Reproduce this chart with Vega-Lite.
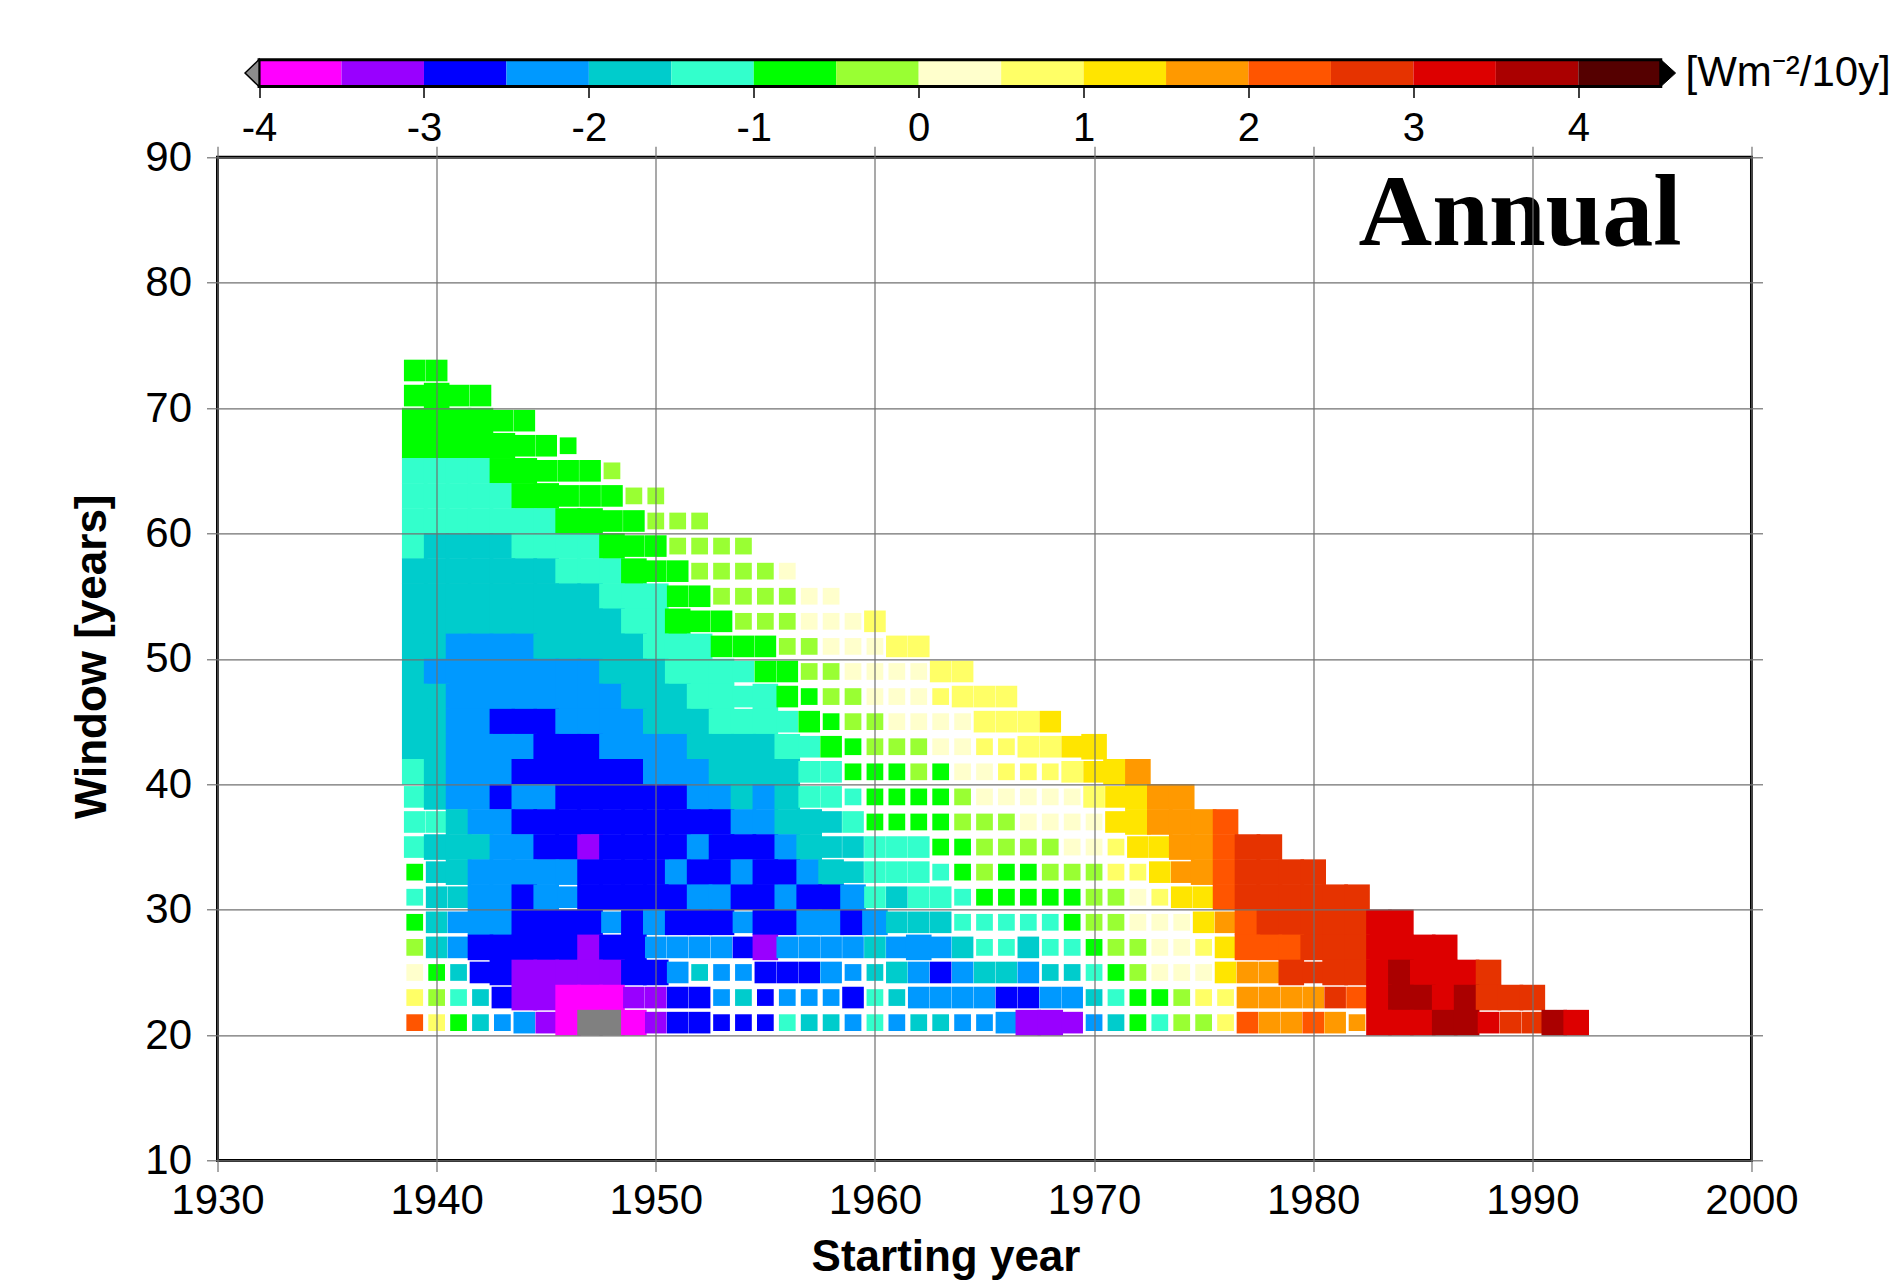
{
"$schema": "https://vega.github.io/schema/vega-lite/v6.json",
"background": "white",
"padding": {"left": 68.5, "top": 51.7, "right": 2, "bottom": 2},
"bounds": "flush",
"spacing": 70.6,
"config": {"view": {"stroke": null}, "axis": {"labelFont": "Liberation Sans", "titleFont": "Liberation Sans"}, "text": {"font": "Liberation Sans"}},
"vconcat": [
{
"width": 1453, "height": 26.7,
"view": {"stroke": null},
"layer": [
{"data": {"values": [
{"lo":-4,"hi":-3.5,"t":-3.75},{"lo":-3.5,"hi":-3,"t":-3.25},{"lo":-3,"hi":-2.5,"t":-2.75},{"lo":-2.5,"hi":-2,"t":-2.25},{"lo":-2,"hi":-1.5,"t":-1.75},{"lo":-1.5,"hi":-1,"t":-1.25},{"lo":-1,"hi":-0.5,"t":-0.75},{"lo":-0.5,"hi":0,"t":-0.25},{"lo":0,"hi":0.5,"t":0.25},{"lo":0.5,"hi":1,"t":0.75},{"lo":1,"hi":1.5,"t":1.25},{"lo":1.5,"hi":2,"t":1.75},{"lo":2,"hi":2.5,"t":2.25},{"lo":2.5,"hi":3,"t":2.75},{"lo":3,"hi":3.5,"t":3.25},{"lo":3.5,"hi":4,"t":3.75},{"lo":4,"hi":4.5,"t":4.25}]},
"mark": {"type": "rect", "strokeWidth": 0},
"encoding": {
"x": {"field": "lo", "type": "quantitative", "scale": {"domain": [-4.252, 4.559], "nice": false, "zero": false},
"axis": {"orient": "bottom", "values": [-4,-3,-2,-1,0,1,2,3,4], "labelExpr": "'' + datum.value", "domain": false, "grid": false, "ticks": true, "tickSize": 11, "tickColor": "black", "tickWidth": 1.5, "labelFontSize": 40, "labelPadding": 11, "labelColor": "black", "title": null, "labelFlush": false, "labelOverlap": false}},
"x2": {"field": "hi"},
"color": {"field": "t", "type": "quantitative", "scale": {"type": "threshold", "domain": [-4,-3.5,-3,-2.5,-2,-1.5,-1,-0.5,0,0.5,1,1.5,2,2.5,3,3.5,4], "range": ["#808080","#ff00ff","#9900ff","#0000ff","#0099ff","#00cccc","#33ffcc","#00ff00","#99ff33","#ffffcc","#ffff66","#ffe500","#ff9900","#ff5500","#e63300","#dd0000","#aa0000","#550000"]}, "legend": null}
}},
{"data": {"values": [{}]},
"mark": {"type": "rect", "filled": false, "stroke": "black", "strokeWidth": 3},
"encoding": {"x": {"datum": -4, "type": "quantitative"}, "x2": {"datum": 4.5}}},
{"data": {"values": [{}]},
"mark": {"type": "point", "shape": "M-0.52,0L0.52,-1L0.52,1Z", "filled": true, "fill": "#8c8c8c", "stroke": "black", "strokeWidth": 1.5, "size": 729, "opacity": 1},
"encoding": {"x": {"datum": -4.0425, "type": "quantitative"}}},
{"data": {"values": [{}]},
"mark": {"type": "point", "shape": "M0.55,0L-0.55,-1L-0.55,1Z", "filled": true, "fill": "black", "stroke": "black", "strokeWidth": 1, "size": 729, "opacity": 1},
"encoding": {"x": {"datum": 4.545, "type": "quantitative"}}},
{"data": {"values": [{}]},
"mark": {"type": "text", "text": "[Wm⁻²/10y]", "fontSize": 42, "align": "left", "baseline": "alphabetic", "dy": 13, "color": "black"},
"encoding": {"x": {"datum": 4.65, "type": "quantitative"}}}
]
},
{
"width": 1534, "height": 1003.3,
"view": {"stroke": "black", "strokeWidth": 3},
"layer": [
{"data": {"values": [
{"yr":1939,"w":73,"t":-0.75,"s":"L"},{"yr":1940,"w":73,"t":-0.75,"s":"L"},
{"yr":1939,"w":71,"t":-0.75,"s":"L"},{"yr":1940,"w":71,"t":-0.75,"s":"F"},{"yr":1941,"w":71,"t":-0.75,"s":"L"},{"yr":1942,"w":71,"t":-0.75,"s":"L"},
{"yr":1939,"w":69,"t":-0.75,"s":"F"},{"yr":1940,"w":69,"t":-0.75,"s":"F"},{"yr":1941,"w":69,"t":-0.75,"s":"F"},{"yr":1942,"w":69,"t":-0.75,"s":"F"},{"yr":1943,"w":69,"t":-0.75,"s":"L"},{"yr":1944,"w":69,"t":-0.75,"s":"L"},
{"yr":1939,"w":67,"t":-0.75,"s":"F"},{"yr":1940,"w":67,"t":-0.75,"s":"F"},{"yr":1941,"w":67,"t":-0.75,"s":"F"},{"yr":1942,"w":67,"t":-0.75,"s":"F"},{"yr":1943,"w":67,"t":-0.75,"s":"F"},{"yr":1944,"w":67,"t":-0.75,"s":"L"},{"yr":1945,"w":67,"t":-0.75,"s":"L"},{"yr":1946,"w":67,"t":-0.75,"s":"S"},
{"yr":1939,"w":65,"t":-1.25,"s":"F"},{"yr":1940,"w":65,"t":-1.25,"s":"F"},{"yr":1941,"w":65,"t":-1.25,"s":"F"},{"yr":1942,"w":65,"t":-1.25,"s":"F"},{"yr":1943,"w":65,"t":-0.75,"s":"F"},{"yr":1944,"w":65,"t":-0.75,"s":"F"},{"yr":1945,"w":65,"t":-0.75,"s":"L"},{"yr":1946,"w":65,"t":-0.75,"s":"L"},{"yr":1947,"w":65,"t":-0.75,"s":"L"},{"yr":1948,"w":65,"t":-0.25,"s":"S"},
{"yr":1939,"w":63,"t":-1.25,"s":"F"},{"yr":1940,"w":63,"t":-1.25,"s":"F"},{"yr":1941,"w":63,"t":-1.25,"s":"F"},{"yr":1942,"w":63,"t":-1.25,"s":"F"},{"yr":1943,"w":63,"t":-1.25,"s":"F"},{"yr":1944,"w":63,"t":-0.75,"s":"F"},{"yr":1945,"w":63,"t":-0.75,"s":"F"},{"yr":1946,"w":63,"t":-0.75,"s":"L"},{"yr":1947,"w":63,"t":-0.75,"s":"L"},{"yr":1948,"w":63,"t":-0.75,"s":"L"},{"yr":1949,"w":63,"t":-0.25,"s":"S"},{"yr":1950,"w":63,"t":-0.25,"s":"S"},
{"yr":1939,"w":61,"t":-1.25,"s":"F"},{"yr":1940,"w":61,"t":-1.25,"s":"F"},{"yr":1941,"w":61,"t":-1.25,"s":"F"},{"yr":1942,"w":61,"t":-1.25,"s":"F"},{"yr":1943,"w":61,"t":-1.25,"s":"F"},{"yr":1944,"w":61,"t":-1.25,"s":"F"},{"yr":1945,"w":61,"t":-1.25,"s":"F"},{"yr":1946,"w":61,"t":-0.75,"s":"F"},{"yr":1947,"w":61,"t":-0.75,"s":"F"},{"yr":1948,"w":61,"t":-0.75,"s":"L"},{"yr":1949,"w":61,"t":-0.75,"s":"L"},{"yr":1950,"w":61,"t":-0.25,"s":"S"},{"yr":1951,"w":61,"t":-0.25,"s":"S"},{"yr":1952,"w":61,"t":-0.25,"s":"S"},
{"yr":1939,"w":59,"t":-1.25,"s":"F"},{"yr":1940,"w":59,"t":-1.75,"s":"F"},{"yr":1941,"w":59,"t":-1.75,"s":"F"},{"yr":1942,"w":59,"t":-1.75,"s":"F"},{"yr":1943,"w":59,"t":-1.75,"s":"F"},{"yr":1944,"w":59,"t":-1.25,"s":"F"},{"yr":1945,"w":59,"t":-1.25,"s":"F"},{"yr":1946,"w":59,"t":-1.25,"s":"F"},{"yr":1947,"w":59,"t":-1.25,"s":"F"},{"yr":1948,"w":59,"t":-0.75,"s":"F"},{"yr":1949,"w":59,"t":-0.75,"s":"L"},{"yr":1950,"w":59,"t":-0.75,"s":"L"},{"yr":1951,"w":59,"t":-0.25,"s":"S"},{"yr":1952,"w":59,"t":-0.25,"s":"S"},{"yr":1953,"w":59,"t":-0.25,"s":"S"},{"yr":1954,"w":59,"t":-0.25,"s":"S"},
{"yr":1939,"w":57,"t":-1.75,"s":"F"},{"yr":1940,"w":57,"t":-1.75,"s":"F"},{"yr":1941,"w":57,"t":-1.75,"s":"F"},{"yr":1942,"w":57,"t":-1.75,"s":"F"},{"yr":1943,"w":57,"t":-1.75,"s":"F"},{"yr":1944,"w":57,"t":-1.75,"s":"F"},{"yr":1945,"w":57,"t":-1.75,"s":"F"},{"yr":1946,"w":57,"t":-1.25,"s":"F"},{"yr":1947,"w":57,"t":-1.25,"s":"F"},{"yr":1948,"w":57,"t":-1.25,"s":"F"},{"yr":1949,"w":57,"t":-0.75,"s":"F"},{"yr":1950,"w":57,"t":-0.75,"s":"L"},{"yr":1951,"w":57,"t":-0.75,"s":"L"},{"yr":1952,"w":57,"t":-0.25,"s":"S"},{"yr":1953,"w":57,"t":-0.25,"s":"S"},{"yr":1954,"w":57,"t":-0.25,"s":"S"},{"yr":1955,"w":57,"t":-0.25,"s":"S"},{"yr":1956,"w":57,"t":0.25,"s":"S"},
{"yr":1939,"w":55,"t":-1.75,"s":"F"},{"yr":1940,"w":55,"t":-1.75,"s":"F"},{"yr":1941,"w":55,"t":-1.75,"s":"F"},{"yr":1942,"w":55,"t":-1.75,"s":"F"},{"yr":1943,"w":55,"t":-1.75,"s":"F"},{"yr":1944,"w":55,"t":-1.75,"s":"F"},{"yr":1945,"w":55,"t":-1.75,"s":"F"},{"yr":1946,"w":55,"t":-1.75,"s":"F"},{"yr":1947,"w":55,"t":-1.75,"s":"F"},{"yr":1948,"w":55,"t":-1.25,"s":"F"},{"yr":1949,"w":55,"t":-1.25,"s":"F"},{"yr":1950,"w":55,"t":-1.25,"s":"F"},{"yr":1951,"w":55,"t":-0.75,"s":"L"},{"yr":1952,"w":55,"t":-0.75,"s":"L"},{"yr":1953,"w":55,"t":-0.25,"s":"S"},{"yr":1954,"w":55,"t":-0.25,"s":"S"},{"yr":1955,"w":55,"t":-0.25,"s":"S"},{"yr":1956,"w":55,"t":-0.25,"s":"S"},{"yr":1957,"w":55,"t":0.25,"s":"S"},{"yr":1958,"w":55,"t":0.25,"s":"S"},
{"yr":1939,"w":53,"t":-1.75,"s":"F"},{"yr":1940,"w":53,"t":-1.75,"s":"F"},{"yr":1941,"w":53,"t":-1.75,"s":"F"},{"yr":1942,"w":53,"t":-1.75,"s":"F"},{"yr":1943,"w":53,"t":-1.75,"s":"F"},{"yr":1944,"w":53,"t":-1.75,"s":"F"},{"yr":1945,"w":53,"t":-1.75,"s":"F"},{"yr":1946,"w":53,"t":-1.75,"s":"F"},{"yr":1947,"w":53,"t":-1.75,"s":"F"},{"yr":1948,"w":53,"t":-1.75,"s":"F"},{"yr":1949,"w":53,"t":-1.25,"s":"F"},{"yr":1950,"w":53,"t":-1.25,"s":"F"},{"yr":1951,"w":53,"t":-0.75,"s":"F"},{"yr":1952,"w":53,"t":-0.75,"s":"L"},{"yr":1953,"w":53,"t":-0.75,"s":"L"},{"yr":1954,"w":53,"t":-0.25,"s":"S"},{"yr":1955,"w":53,"t":-0.25,"s":"S"},{"yr":1956,"w":53,"t":-0.25,"s":"S"},{"yr":1957,"w":53,"t":0.25,"s":"S"},{"yr":1958,"w":53,"t":0.25,"s":"S"},{"yr":1959,"w":53,"t":0.25,"s":"S"},{"yr":1960,"w":53,"t":0.75,"s":"L"},
{"yr":1939,"w":51,"t":-1.75,"s":"F"},{"yr":1940,"w":51,"t":-1.75,"s":"F"},{"yr":1941,"w":51,"t":-2.25,"s":"F"},{"yr":1942,"w":51,"t":-2.25,"s":"F"},{"yr":1943,"w":51,"t":-2.25,"s":"F"},{"yr":1944,"w":51,"t":-2.25,"s":"F"},{"yr":1945,"w":51,"t":-1.75,"s":"F"},{"yr":1946,"w":51,"t":-1.75,"s":"F"},{"yr":1947,"w":51,"t":-1.75,"s":"F"},{"yr":1948,"w":51,"t":-1.75,"s":"F"},{"yr":1949,"w":51,"t":-1.75,"s":"F"},{"yr":1950,"w":51,"t":-1.25,"s":"F"},{"yr":1951,"w":51,"t":-1.25,"s":"F"},{"yr":1952,"w":51,"t":-1.25,"s":"F"},{"yr":1953,"w":51,"t":-0.75,"s":"L"},{"yr":1954,"w":51,"t":-0.75,"s":"L"},{"yr":1955,"w":51,"t":-0.75,"s":"L"},{"yr":1956,"w":51,"t":-0.25,"s":"S"},{"yr":1957,"w":51,"t":-0.25,"s":"S"},{"yr":1958,"w":51,"t":0.25,"s":"S"},{"yr":1959,"w":51,"t":0.25,"s":"S"},{"yr":1960,"w":51,"t":0.25,"s":"S"},{"yr":1961,"w":51,"t":0.75,"s":"L"},{"yr":1962,"w":51,"t":0.75,"s":"L"},
{"yr":1939,"w":49,"t":-1.75,"s":"F"},{"yr":1940,"w":49,"t":-2.25,"s":"F"},{"yr":1941,"w":49,"t":-2.25,"s":"F"},{"yr":1942,"w":49,"t":-2.25,"s":"F"},{"yr":1943,"w":49,"t":-2.25,"s":"F"},{"yr":1944,"w":49,"t":-2.25,"s":"F"},{"yr":1945,"w":49,"t":-2.25,"s":"F"},{"yr":1946,"w":49,"t":-2.25,"s":"F"},{"yr":1947,"w":49,"t":-2.25,"s":"F"},{"yr":1948,"w":49,"t":-1.75,"s":"F"},{"yr":1949,"w":49,"t":-1.75,"s":"F"},{"yr":1950,"w":49,"t":-1.75,"s":"F"},{"yr":1951,"w":49,"t":-1.25,"s":"F"},{"yr":1952,"w":49,"t":-1.25,"s":"F"},{"yr":1953,"w":49,"t":-1.25,"s":"F"},{"yr":1954,"w":49,"t":-1.25,"s":"L"},{"yr":1955,"w":49,"t":-0.75,"s":"L"},{"yr":1956,"w":49,"t":-0.75,"s":"L"},{"yr":1957,"w":49,"t":-0.25,"s":"S"},{"yr":1958,"w":49,"t":-0.25,"s":"S"},{"yr":1959,"w":49,"t":0.25,"s":"S"},{"yr":1960,"w":49,"t":0.25,"s":"S"},{"yr":1961,"w":49,"t":0.25,"s":"S"},{"yr":1962,"w":49,"t":0.25,"s":"S"},{"yr":1963,"w":49,"t":0.75,"s":"L"},{"yr":1964,"w":49,"t":0.75,"s":"L"},
{"yr":1939,"w":47,"t":-1.75,"s":"F"},{"yr":1940,"w":47,"t":-1.75,"s":"F"},{"yr":1941,"w":47,"t":-2.25,"s":"F"},{"yr":1942,"w":47,"t":-2.25,"s":"F"},{"yr":1943,"w":47,"t":-2.25,"s":"F"},{"yr":1944,"w":47,"t":-2.25,"s":"F"},{"yr":1945,"w":47,"t":-2.25,"s":"F"},{"yr":1946,"w":47,"t":-2.25,"s":"F"},{"yr":1947,"w":47,"t":-2.25,"s":"F"},{"yr":1948,"w":47,"t":-2.25,"s":"F"},{"yr":1949,"w":47,"t":-1.75,"s":"F"},{"yr":1950,"w":47,"t":-1.75,"s":"F"},{"yr":1951,"w":47,"t":-1.75,"s":"F"},{"yr":1952,"w":47,"t":-1.25,"s":"F"},{"yr":1953,"w":47,"t":-1.25,"s":"F"},{"yr":1954,"w":47,"t":-1.25,"s":"L"},{"yr":1955,"w":47,"t":-1.25,"s":"F"},{"yr":1956,"w":47,"t":-0.75,"s":"L"},{"yr":1957,"w":47,"t":-0.75,"s":"S"},{"yr":1958,"w":47,"t":-0.25,"s":"S"},{"yr":1959,"w":47,"t":-0.25,"s":"S"},{"yr":1960,"w":47,"t":0.25,"s":"S"},{"yr":1961,"w":47,"t":0.25,"s":"S"},{"yr":1962,"w":47,"t":0.25,"s":"S"},{"yr":1963,"w":47,"t":0.75,"s":"S"},{"yr":1964,"w":47,"t":0.75,"s":"L"},{"yr":1965,"w":47,"t":0.75,"s":"L"},{"yr":1966,"w":47,"t":0.75,"s":"L"},
{"yr":1939,"w":45,"t":-1.75,"s":"F"},{"yr":1940,"w":45,"t":-1.75,"s":"F"},{"yr":1941,"w":45,"t":-2.25,"s":"F"},{"yr":1942,"w":45,"t":-2.25,"s":"F"},{"yr":1943,"w":45,"t":-2.75,"s":"F"},{"yr":1944,"w":45,"t":-2.75,"s":"F"},{"yr":1945,"w":45,"t":-2.75,"s":"F"},{"yr":1946,"w":45,"t":-2.25,"s":"F"},{"yr":1947,"w":45,"t":-2.25,"s":"F"},{"yr":1948,"w":45,"t":-2.25,"s":"F"},{"yr":1949,"w":45,"t":-2.25,"s":"F"},{"yr":1950,"w":45,"t":-1.75,"s":"F"},{"yr":1951,"w":45,"t":-1.75,"s":"F"},{"yr":1952,"w":45,"t":-1.75,"s":"F"},{"yr":1953,"w":45,"t":-1.25,"s":"F"},{"yr":1954,"w":45,"t":-1.25,"s":"F"},{"yr":1955,"w":45,"t":-1.25,"s":"F"},{"yr":1956,"w":45,"t":-1.25,"s":"L"},{"yr":1957,"w":45,"t":-0.75,"s":"L"},{"yr":1958,"w":45,"t":-0.75,"s":"S"},{"yr":1959,"w":45,"t":-0.25,"s":"S"},{"yr":1960,"w":45,"t":-0.25,"s":"S"},{"yr":1961,"w":45,"t":0.25,"s":"S"},{"yr":1962,"w":45,"t":0.25,"s":"S"},{"yr":1963,"w":45,"t":0.25,"s":"S"},{"yr":1964,"w":45,"t":0.25,"s":"S"},{"yr":1965,"w":45,"t":0.75,"s":"L"},{"yr":1966,"w":45,"t":0.75,"s":"L"},{"yr":1967,"w":45,"t":0.75,"s":"L"},{"yr":1968,"w":45,"t":1.25,"s":"L"},
{"yr":1939,"w":43,"t":-1.75,"s":"F"},{"yr":1940,"w":43,"t":-1.75,"s":"F"},{"yr":1941,"w":43,"t":-2.25,"s":"F"},{"yr":1942,"w":43,"t":-2.25,"s":"F"},{"yr":1943,"w":43,"t":-2.25,"s":"F"},{"yr":1944,"w":43,"t":-2.25,"s":"F"},{"yr":1945,"w":43,"t":-2.75,"s":"F"},{"yr":1946,"w":43,"t":-2.75,"s":"F"},{"yr":1947,"w":43,"t":-2.75,"s":"F"},{"yr":1948,"w":43,"t":-2.25,"s":"F"},{"yr":1949,"w":43,"t":-2.25,"s":"F"},{"yr":1950,"w":43,"t":-2.25,"s":"F"},{"yr":1951,"w":43,"t":-2.25,"s":"F"},{"yr":1952,"w":43,"t":-1.75,"s":"F"},{"yr":1953,"w":43,"t":-1.75,"s":"F"},{"yr":1954,"w":43,"t":-1.75,"s":"F"},{"yr":1955,"w":43,"t":-1.75,"s":"F"},{"yr":1956,"w":43,"t":-1.25,"s":"F"},{"yr":1957,"w":43,"t":-1.25,"s":"L"},{"yr":1958,"w":43,"t":-0.75,"s":"L"},{"yr":1959,"w":43,"t":-0.75,"s":"S"},{"yr":1960,"w":43,"t":-0.25,"s":"S"},{"yr":1961,"w":43,"t":-0.25,"s":"S"},{"yr":1962,"w":43,"t":-0.25,"s":"S"},{"yr":1963,"w":43,"t":0.25,"s":"S"},{"yr":1964,"w":43,"t":0.25,"s":"S"},{"yr":1965,"w":43,"t":0.75,"s":"S"},{"yr":1966,"w":43,"t":0.75,"s":"S"},{"yr":1967,"w":43,"t":0.75,"s":"L"},{"yr":1968,"w":43,"t":0.75,"s":"L"},{"yr":1969,"w":43,"t":1.25,"s":"L"},{"yr":1970,"w":43,"t":1.25,"s":"F"},
{"yr":1939,"w":41,"t":-1.25,"s":"F"},{"yr":1940,"w":41,"t":-1.75,"s":"F"},{"yr":1941,"w":41,"t":-2.25,"s":"F"},{"yr":1942,"w":41,"t":-2.25,"s":"F"},{"yr":1943,"w":41,"t":-2.25,"s":"F"},{"yr":1944,"w":41,"t":-2.75,"s":"F"},{"yr":1945,"w":41,"t":-2.75,"s":"F"},{"yr":1946,"w":41,"t":-2.75,"s":"F"},{"yr":1947,"w":41,"t":-2.75,"s":"F"},{"yr":1948,"w":41,"t":-2.75,"s":"F"},{"yr":1949,"w":41,"t":-2.75,"s":"F"},{"yr":1950,"w":41,"t":-2.25,"s":"F"},{"yr":1951,"w":41,"t":-2.25,"s":"F"},{"yr":1952,"w":41,"t":-2.25,"s":"F"},{"yr":1953,"w":41,"t":-1.75,"s":"F"},{"yr":1954,"w":41,"t":-1.75,"s":"F"},{"yr":1955,"w":41,"t":-1.75,"s":"F"},{"yr":1956,"w":41,"t":-1.75,"s":"F"},{"yr":1957,"w":41,"t":-1.25,"s":"L"},{"yr":1958,"w":41,"t":-1.25,"s":"L"},{"yr":1959,"w":41,"t":-0.75,"s":"S"},{"yr":1960,"w":41,"t":-0.75,"s":"S"},{"yr":1961,"w":41,"t":-0.75,"s":"S"},{"yr":1962,"w":41,"t":-0.25,"s":"S"},{"yr":1963,"w":41,"t":-0.75,"s":"S"},{"yr":1964,"w":41,"t":0.25,"s":"S"},{"yr":1965,"w":41,"t":0.25,"s":"S"},{"yr":1966,"w":41,"t":0.75,"s":"S"},{"yr":1967,"w":41,"t":0.75,"s":"S"},{"yr":1968,"w":41,"t":0.75,"s":"S"},{"yr":1969,"w":41,"t":0.75,"s":"L"},{"yr":1970,"w":41,"t":1.25,"s":"L"},{"yr":1971,"w":41,"t":1.25,"s":"F"},{"yr":1972,"w":41,"t":1.75,"s":"F"},
{"yr":1939,"w":39,"t":-1.25,"s":"L"},{"yr":1940,"w":39,"t":-1.75,"s":"F"},{"yr":1941,"w":39,"t":-2.25,"s":"F"},{"yr":1942,"w":39,"t":-2.25,"s":"F"},{"yr":1943,"w":39,"t":-2.75,"s":"F"},{"yr":1944,"w":39,"t":-2.25,"s":"F"},{"yr":1945,"w":39,"t":-2.25,"s":"F"},{"yr":1946,"w":39,"t":-2.75,"s":"F"},{"yr":1947,"w":39,"t":-2.75,"s":"F"},{"yr":1948,"w":39,"t":-2.75,"s":"F"},{"yr":1949,"w":39,"t":-2.75,"s":"F"},{"yr":1950,"w":39,"t":-2.75,"s":"F"},{"yr":1951,"w":39,"t":-2.75,"s":"F"},{"yr":1952,"w":39,"t":-2.25,"s":"F"},{"yr":1953,"w":39,"t":-2.25,"s":"F"},{"yr":1954,"w":39,"t":-1.75,"s":"F"},{"yr":1955,"w":39,"t":-2.25,"s":"F"},{"yr":1956,"w":39,"t":-1.75,"s":"F"},{"yr":1957,"w":39,"t":-1.25,"s":"L"},{"yr":1958,"w":39,"t":-1.25,"s":"L"},{"yr":1959,"w":39,"t":-1.25,"s":"S"},{"yr":1960,"w":39,"t":-0.75,"s":"S"},{"yr":1961,"w":39,"t":-0.75,"s":"S"},{"yr":1962,"w":39,"t":-0.75,"s":"S"},{"yr":1963,"w":39,"t":-0.75,"s":"S"},{"yr":1964,"w":39,"t":-0.25,"s":"S"},{"yr":1965,"w":39,"t":0.25,"s":"S"},{"yr":1966,"w":39,"t":0.25,"s":"S"},{"yr":1967,"w":39,"t":0.25,"s":"S"},{"yr":1968,"w":39,"t":0.25,"s":"S"},{"yr":1969,"w":39,"t":0.25,"s":"S"},{"yr":1970,"w":39,"t":0.75,"s":"L"},{"yr":1971,"w":39,"t":1.25,"s":"L"},{"yr":1972,"w":39,"t":1.25,"s":"F"},{"yr":1973,"w":39,"t":1.75,"s":"F"},{"yr":1974,"w":39,"t":1.75,"s":"F"},
{"yr":1939,"w":37,"t":-1.25,"s":"L"},{"yr":1940,"w":37,"t":-1.25,"s":"L"},{"yr":1941,"w":37,"t":-1.75,"s":"F"},{"yr":1942,"w":37,"t":-2.25,"s":"F"},{"yr":1943,"w":37,"t":-2.25,"s":"F"},{"yr":1944,"w":37,"t":-2.75,"s":"F"},{"yr":1945,"w":37,"t":-2.75,"s":"F"},{"yr":1946,"w":37,"t":-2.75,"s":"F"},{"yr":1947,"w":37,"t":-2.75,"s":"F"},{"yr":1948,"w":37,"t":-2.75,"s":"F"},{"yr":1949,"w":37,"t":-2.75,"s":"F"},{"yr":1950,"w":37,"t":-2.75,"s":"F"},{"yr":1951,"w":37,"t":-2.75,"s":"F"},{"yr":1952,"w":37,"t":-2.75,"s":"F"},{"yr":1953,"w":37,"t":-2.75,"s":"F"},{"yr":1954,"w":37,"t":-2.25,"s":"F"},{"yr":1955,"w":37,"t":-2.25,"s":"F"},{"yr":1956,"w":37,"t":-1.75,"s":"F"},{"yr":1957,"w":37,"t":-1.75,"s":"F"},{"yr":1958,"w":37,"t":-1.75,"s":"L"},{"yr":1959,"w":37,"t":-1.25,"s":"L"},{"yr":1960,"w":37,"t":-0.75,"s":"S"},{"yr":1961,"w":37,"t":-0.75,"s":"S"},{"yr":1962,"w":37,"t":-0.75,"s":"S"},{"yr":1963,"w":37,"t":-0.75,"s":"S"},{"yr":1964,"w":37,"t":-0.25,"s":"S"},{"yr":1965,"w":37,"t":-0.25,"s":"S"},{"yr":1966,"w":37,"t":-0.25,"s":"S"},{"yr":1967,"w":37,"t":0.25,"s":"S"},{"yr":1968,"w":37,"t":0.25,"s":"S"},{"yr":1969,"w":37,"t":0.25,"s":"S"},{"yr":1970,"w":37,"t":0.25,"s":"S"},{"yr":1971,"w":37,"t":1.25,"s":"L"},{"yr":1972,"w":37,"t":1.25,"s":"F"},{"yr":1973,"w":37,"t":1.75,"s":"F"},{"yr":1974,"w":37,"t":1.75,"s":"F"},{"yr":1975,"w":37,"t":1.75,"s":"F"},{"yr":1976,"w":37,"t":2.25,"s":"F"},
{"yr":1939,"w":35,"t":-1.25,"s":"L"},{"yr":1940,"w":35,"t":-1.75,"s":"F"},{"yr":1941,"w":35,"t":-1.75,"s":"F"},{"yr":1942,"w":35,"t":-1.75,"s":"F"},{"yr":1943,"w":35,"t":-2.25,"s":"F"},{"yr":1944,"w":35,"t":-2.25,"s":"F"},{"yr":1945,"w":35,"t":-2.75,"s":"F"},{"yr":1946,"w":35,"t":-2.75,"s":"F"},{"yr":1947,"w":35,"t":-3.25,"s":"F"},{"yr":1948,"w":35,"t":-2.75,"s":"F"},{"yr":1949,"w":35,"t":-2.75,"s":"F"},{"yr":1950,"w":35,"t":-2.75,"s":"F"},{"yr":1951,"w":35,"t":-2.75,"s":"F"},{"yr":1952,"w":35,"t":-2.25,"s":"F"},{"yr":1953,"w":35,"t":-2.75,"s":"F"},{"yr":1954,"w":35,"t":-2.75,"s":"F"},{"yr":1955,"w":35,"t":-2.75,"s":"F"},{"yr":1956,"w":35,"t":-2.25,"s":"F"},{"yr":1957,"w":35,"t":-1.75,"s":"F"},{"yr":1958,"w":35,"t":-1.75,"s":"L"},{"yr":1959,"w":35,"t":-1.75,"s":"L"},{"yr":1960,"w":35,"t":-1.25,"s":"L"},{"yr":1961,"w":35,"t":-1.25,"s":"L"},{"yr":1962,"w":35,"t":-1.25,"s":"L"},{"yr":1963,"w":35,"t":-0.75,"s":"S"},{"yr":1964,"w":35,"t":-0.75,"s":"S"},{"yr":1965,"w":35,"t":-0.25,"s":"S"},{"yr":1966,"w":35,"t":-0.25,"s":"S"},{"yr":1967,"w":35,"t":-0.25,"s":"S"},{"yr":1968,"w":35,"t":-0.25,"s":"S"},{"yr":1969,"w":35,"t":0.25,"s":"S"},{"yr":1970,"w":35,"t":0.25,"s":"S"},{"yr":1971,"w":35,"t":0.75,"s":"S"},{"yr":1972,"w":35,"t":1.25,"s":"L"},{"yr":1973,"w":35,"t":1.25,"s":"L"},{"yr":1974,"w":35,"t":1.75,"s":"F"},{"yr":1975,"w":35,"t":1.75,"s":"F"},{"yr":1976,"w":35,"t":2.25,"s":"F"},{"yr":1977,"w":35,"t":2.75,"s":"F"},{"yr":1978,"w":35,"t":2.75,"s":"F"},
{"yr":1939,"w":33,"t":-0.75,"s":"S"},{"yr":1940,"w":33,"t":-1.75,"s":"L"},{"yr":1941,"w":33,"t":-1.75,"s":"F"},{"yr":1942,"w":33,"t":-2.25,"s":"F"},{"yr":1943,"w":33,"t":-2.25,"s":"F"},{"yr":1944,"w":33,"t":-2.25,"s":"F"},{"yr":1945,"w":33,"t":-2.25,"s":"F"},{"yr":1946,"w":33,"t":-2.25,"s":"F"},{"yr":1947,"w":33,"t":-2.75,"s":"F"},{"yr":1948,"w":33,"t":-2.75,"s":"F"},{"yr":1949,"w":33,"t":-2.75,"s":"F"},{"yr":1950,"w":33,"t":-2.75,"s":"F"},{"yr":1951,"w":33,"t":-2.25,"s":"F"},{"yr":1952,"w":33,"t":-2.75,"s":"F"},{"yr":1953,"w":33,"t":-2.75,"s":"F"},{"yr":1954,"w":33,"t":-2.25,"s":"F"},{"yr":1955,"w":33,"t":-2.75,"s":"F"},{"yr":1956,"w":33,"t":-2.75,"s":"F"},{"yr":1957,"w":33,"t":-2.25,"s":"F"},{"yr":1958,"w":33,"t":-1.75,"s":"F"},{"yr":1959,"w":33,"t":-1.75,"s":"L"},{"yr":1960,"w":33,"t":-1.25,"s":"L"},{"yr":1961,"w":33,"t":-1.25,"s":"L"},{"yr":1962,"w":33,"t":-1.25,"s":"L"},{"yr":1963,"w":33,"t":-1.25,"s":"S"},{"yr":1964,"w":33,"t":-0.75,"s":"S"},{"yr":1965,"w":33,"t":-0.25,"s":"S"},{"yr":1966,"w":33,"t":-0.75,"s":"S"},{"yr":1967,"w":33,"t":-0.75,"s":"S"},{"yr":1968,"w":33,"t":-0.25,"s":"S"},{"yr":1969,"w":33,"t":-0.25,"s":"S"},{"yr":1970,"w":33,"t":-0.25,"s":"S"},{"yr":1971,"w":33,"t":0.75,"s":"S"},{"yr":1972,"w":33,"t":0.75,"s":"S"},{"yr":1973,"w":33,"t":1.25,"s":"L"},{"yr":1974,"w":33,"t":1.75,"s":"L"},{"yr":1975,"w":33,"t":1.75,"s":"F"},{"yr":1976,"w":33,"t":2.25,"s":"F"},{"yr":1977,"w":33,"t":2.75,"s":"F"},{"yr":1978,"w":33,"t":2.75,"s":"F"},{"yr":1979,"w":33,"t":2.75,"s":"F"},{"yr":1980,"w":33,"t":2.75,"s":"F"},
{"yr":1939,"w":31,"t":-1.25,"s":"S"},{"yr":1940,"w":31,"t":-1.75,"s":"L"},{"yr":1941,"w":31,"t":-1.75,"s":"L"},{"yr":1942,"w":31,"t":-2.25,"s":"F"},{"yr":1943,"w":31,"t":-2.25,"s":"F"},{"yr":1944,"w":31,"t":-2.75,"s":"F"},{"yr":1945,"w":31,"t":-2.25,"s":"F"},{"yr":1946,"w":31,"t":-2.25,"s":"L"},{"yr":1947,"w":31,"t":-2.75,"s":"F"},{"yr":1948,"w":31,"t":-2.75,"s":"F"},{"yr":1949,"w":31,"t":-2.75,"s":"F"},{"yr":1950,"w":31,"t":-2.75,"s":"F"},{"yr":1951,"w":31,"t":-2.75,"s":"F"},{"yr":1952,"w":31,"t":-2.25,"s":"F"},{"yr":1953,"w":31,"t":-2.25,"s":"F"},{"yr":1954,"w":31,"t":-2.75,"s":"F"},{"yr":1955,"w":31,"t":-2.75,"s":"F"},{"yr":1956,"w":31,"t":-2.25,"s":"F"},{"yr":1957,"w":31,"t":-2.75,"s":"F"},{"yr":1958,"w":31,"t":-2.75,"s":"F"},{"yr":1959,"w":31,"t":-2.25,"s":"F"},{"yr":1960,"w":31,"t":-1.25,"s":"L"},{"yr":1961,"w":31,"t":-1.75,"s":"L"},{"yr":1962,"w":31,"t":-1.25,"s":"L"},{"yr":1963,"w":31,"t":-1.25,"s":"L"},{"yr":1964,"w":31,"t":-1.25,"s":"S"},{"yr":1965,"w":31,"t":-0.75,"s":"S"},{"yr":1966,"w":31,"t":-0.75,"s":"S"},{"yr":1967,"w":31,"t":-0.75,"s":"S"},{"yr":1968,"w":31,"t":-0.75,"s":"S"},{"yr":1969,"w":31,"t":-0.75,"s":"S"},{"yr":1970,"w":31,"t":-0.25,"s":"S"},{"yr":1971,"w":31,"t":-0.25,"s":"S"},{"yr":1972,"w":31,"t":0.25,"s":"S"},{"yr":1973,"w":31,"t":0.75,"s":"S"},{"yr":1974,"w":31,"t":1.25,"s":"L"},{"yr":1975,"w":31,"t":1.25,"s":"L"},{"yr":1976,"w":31,"t":2.25,"s":"F"},{"yr":1977,"w":31,"t":2.75,"s":"F"},{"yr":1978,"w":31,"t":2.75,"s":"F"},{"yr":1979,"w":31,"t":2.75,"s":"F"},{"yr":1980,"w":31,"t":2.75,"s":"F"},{"yr":1981,"w":31,"t":2.75,"s":"F"},{"yr":1982,"w":31,"t":2.75,"s":"F"},
{"yr":1939,"w":29,"t":-0.75,"s":"S"},{"yr":1940,"w":29,"t":-1.75,"s":"L"},{"yr":1941,"w":29,"t":-2.25,"s":"L"},{"yr":1942,"w":29,"t":-2.25,"s":"F"},{"yr":1943,"w":29,"t":-2.25,"s":"F"},{"yr":1944,"w":29,"t":-2.75,"s":"F"},{"yr":1945,"w":29,"t":-2.75,"s":"F"},{"yr":1946,"w":29,"t":-2.75,"s":"F"},{"yr":1947,"w":29,"t":-2.75,"s":"F"},{"yr":1948,"w":29,"t":-2.25,"s":"L"},{"yr":1949,"w":29,"t":-2.75,"s":"F"},{"yr":1950,"w":29,"t":-2.25,"s":"F"},{"yr":1951,"w":29,"t":-2.75,"s":"F"},{"yr":1952,"w":29,"t":-2.75,"s":"F"},{"yr":1953,"w":29,"t":-2.75,"s":"F"},{"yr":1954,"w":29,"t":-2.25,"s":"L"},{"yr":1955,"w":29,"t":-2.75,"s":"F"},{"yr":1956,"w":29,"t":-2.75,"s":"F"},{"yr":1957,"w":29,"t":-2.25,"s":"F"},{"yr":1958,"w":29,"t":-2.25,"s":"F"},{"yr":1959,"w":29,"t":-2.75,"s":"F"},{"yr":1960,"w":29,"t":-2.25,"s":"F"},{"yr":1961,"w":29,"t":-1.75,"s":"L"},{"yr":1962,"w":29,"t":-1.75,"s":"L"},{"yr":1963,"w":29,"t":-1.75,"s":"L"},{"yr":1964,"w":29,"t":-1.25,"s":"S"},{"yr":1965,"w":29,"t":-1.25,"s":"S"},{"yr":1966,"w":29,"t":-1.25,"s":"S"},{"yr":1967,"w":29,"t":-1.25,"s":"S"},{"yr":1968,"w":29,"t":-1.25,"s":"S"},{"yr":1969,"w":29,"t":-0.75,"s":"S"},{"yr":1970,"w":29,"t":-0.25,"s":"S"},{"yr":1971,"w":29,"t":-0.25,"s":"S"},{"yr":1972,"w":29,"t":0.25,"s":"S"},{"yr":1973,"w":29,"t":0.25,"s":"S"},{"yr":1974,"w":29,"t":0.25,"s":"S"},{"yr":1975,"w":29,"t":1.25,"s":"L"},{"yr":1976,"w":29,"t":1.75,"s":"L"},{"yr":1977,"w":29,"t":2.25,"s":"F"},{"yr":1978,"w":29,"t":2.75,"s":"F"},{"yr":1979,"w":29,"t":2.75,"s":"F"},{"yr":1980,"w":29,"t":2.75,"s":"F"},{"yr":1981,"w":29,"t":2.75,"s":"F"},{"yr":1982,"w":29,"t":2.75,"s":"F"},{"yr":1983,"w":29,"t":3.25,"s":"F"},{"yr":1984,"w":29,"t":3.25,"s":"F"},
{"yr":1939,"w":27,"t":-0.25,"s":"S"},{"yr":1940,"w":27,"t":-1.75,"s":"L"},{"yr":1941,"w":27,"t":-2.25,"s":"L"},{"yr":1942,"w":27,"t":-2.75,"s":"F"},{"yr":1943,"w":27,"t":-2.75,"s":"F"},{"yr":1944,"w":27,"t":-2.75,"s":"F"},{"yr":1945,"w":27,"t":-2.75,"s":"F"},{"yr":1946,"w":27,"t":-2.75,"s":"F"},{"yr":1947,"w":27,"t":-3.25,"s":"F"},{"yr":1948,"w":27,"t":-2.75,"s":"F"},{"yr":1949,"w":27,"t":-2.75,"s":"F"},{"yr":1950,"w":27,"t":-2.25,"s":"L"},{"yr":1951,"w":27,"t":-2.25,"s":"L"},{"yr":1952,"w":27,"t":-2.25,"s":"L"},{"yr":1953,"w":27,"t":-2.25,"s":"L"},{"yr":1954,"w":27,"t":-2.75,"s":"L"},{"yr":1955,"w":27,"t":-3.25,"s":"F"},{"yr":1956,"w":27,"t":-2.25,"s":"L"},{"yr":1957,"w":27,"t":-2.25,"s":"L"},{"yr":1958,"w":27,"t":-2.25,"s":"L"},{"yr":1959,"w":27,"t":-2.25,"s":"L"},{"yr":1960,"w":27,"t":-1.75,"s":"L"},{"yr":1961,"w":27,"t":-2.25,"s":"L"},{"yr":1962,"w":27,"t":-2.25,"s":"F"},{"yr":1963,"w":27,"t":-2.25,"s":"L"},{"yr":1964,"w":27,"t":-1.75,"s":"L"},{"yr":1965,"w":27,"t":-1.25,"s":"S"},{"yr":1966,"w":27,"t":-1.25,"s":"S"},{"yr":1967,"w":27,"t":-1.75,"s":"L"},{"yr":1968,"w":27,"t":-1.25,"s":"S"},{"yr":1969,"w":27,"t":-1.25,"s":"S"},{"yr":1970,"w":27,"t":-0.75,"s":"S"},{"yr":1971,"w":27,"t":-0.25,"s":"S"},{"yr":1972,"w":27,"t":-0.25,"s":"S"},{"yr":1973,"w":27,"t":0.25,"s":"S"},{"yr":1974,"w":27,"t":0.25,"s":"S"},{"yr":1975,"w":27,"t":0.75,"s":"S"},{"yr":1976,"w":27,"t":1.25,"s":"L"},{"yr":1977,"w":27,"t":2.25,"s":"F"},{"yr":1978,"w":27,"t":2.25,"s":"F"},{"yr":1979,"w":27,"t":2.25,"s":"F"},{"yr":1980,"w":27,"t":2.75,"s":"F"},{"yr":1981,"w":27,"t":2.75,"s":"F"},{"yr":1982,"w":27,"t":2.75,"s":"F"},{"yr":1983,"w":27,"t":3.25,"s":"F"},{"yr":1984,"w":27,"t":3.25,"s":"F"},{"yr":1985,"w":27,"t":3.25,"s":"F"},{"yr":1986,"w":27,"t":3.25,"s":"F"},
{"yr":1939,"w":25,"t":0.25,"s":"S"},{"yr":1940,"w":25,"t":-0.75,"s":"S"},{"yr":1941,"w":25,"t":-1.75,"s":"S"},{"yr":1942,"w":25,"t":-2.75,"s":"L"},{"yr":1943,"w":25,"t":-2.75,"s":"F"},{"yr":1944,"w":25,"t":-3.25,"s":"F"},{"yr":1945,"w":25,"t":-3.25,"s":"F"},{"yr":1946,"w":25,"t":-3.25,"s":"F"},{"yr":1947,"w":25,"t":-3.25,"s":"F"},{"yr":1948,"w":25,"t":-3.25,"s":"F"},{"yr":1949,"w":25,"t":-2.75,"s":"F"},{"yr":1950,"w":25,"t":-2.75,"s":"F"},{"yr":1951,"w":25,"t":-2.25,"s":"L"},{"yr":1952,"w":25,"t":-1.75,"s":"S"},{"yr":1953,"w":25,"t":-2.25,"s":"S"},{"yr":1954,"w":25,"t":-2.25,"s":"S"},{"yr":1955,"w":25,"t":-2.75,"s":"L"},{"yr":1956,"w":25,"t":-2.75,"s":"L"},{"yr":1957,"w":25,"t":-2.75,"s":"L"},{"yr":1958,"w":25,"t":-2.25,"s":"L"},{"yr":1959,"w":25,"t":-2.25,"s":"S"},{"yr":1960,"w":25,"t":-1.75,"s":"S"},{"yr":1961,"w":25,"t":-1.75,"s":"L"},{"yr":1962,"w":25,"t":-2.25,"s":"L"},{"yr":1963,"w":25,"t":-2.75,"s":"L"},{"yr":1964,"w":25,"t":-2.25,"s":"L"},{"yr":1965,"w":25,"t":-1.75,"s":"L"},{"yr":1966,"w":25,"t":-1.75,"s":"L"},{"yr":1967,"w":25,"t":-2.25,"s":"L"},{"yr":1968,"w":25,"t":-1.75,"s":"S"},{"yr":1969,"w":25,"t":-1.75,"s":"S"},{"yr":1970,"w":25,"t":-1.25,"s":"S"},{"yr":1971,"w":25,"t":-0.75,"s":"S"},{"yr":1972,"w":25,"t":-0.25,"s":"S"},{"yr":1973,"w":25,"t":0.25,"s":"S"},{"yr":1974,"w":25,"t":0.25,"s":"S"},{"yr":1975,"w":25,"t":0.25,"s":"S"},{"yr":1976,"w":25,"t":1.25,"s":"L"},{"yr":1977,"w":25,"t":1.75,"s":"L"},{"yr":1978,"w":25,"t":1.75,"s":"L"},{"yr":1979,"w":25,"t":2.75,"s":"F"},{"yr":1980,"w":25,"t":2.75,"s":"L"},{"yr":1981,"w":25,"t":2.75,"s":"F"},{"yr":1982,"w":25,"t":2.75,"s":"F"},{"yr":1983,"w":25,"t":3.25,"s":"F"},{"yr":1984,"w":25,"t":3.75,"s":"F"},{"yr":1985,"w":25,"t":3.25,"s":"F"},{"yr":1986,"w":25,"t":3.25,"s":"F"},{"yr":1987,"w":25,"t":3.25,"s":"F"},{"yr":1988,"w":25,"t":2.75,"s":"F"},
{"yr":1939,"w":23,"t":0.75,"s":"S"},{"yr":1940,"w":23,"t":-0.25,"s":"S"},{"yr":1941,"w":23,"t":-1.25,"s":"S"},{"yr":1942,"w":23,"t":-1.75,"s":"S"},{"yr":1943,"w":23,"t":-2.75,"s":"L"},{"yr":1944,"w":23,"t":-3.25,"s":"F"},{"yr":1945,"w":23,"t":-3.25,"s":"F"},{"yr":1946,"w":23,"t":-3.75,"s":"F"},{"yr":1947,"w":23,"t":-3.75,"s":"F"},{"yr":1948,"w":23,"t":-3.75,"s":"F"},{"yr":1949,"w":23,"t":-3.25,"s":"L"},{"yr":1950,"w":23,"t":-3.25,"s":"L"},{"yr":1951,"w":23,"t":-2.75,"s":"L"},{"yr":1952,"w":23,"t":-2.75,"s":"L"},{"yr":1953,"w":23,"t":-2.25,"s":"S"},{"yr":1954,"w":23,"t":-1.75,"s":"S"},{"yr":1955,"w":23,"t":-2.75,"s":"S"},{"yr":1956,"w":23,"t":-2.25,"s":"S"},{"yr":1957,"w":23,"t":-2.25,"s":"S"},{"yr":1958,"w":23,"t":-2.25,"s":"S"},{"yr":1959,"w":23,"t":-2.75,"s":"L"},{"yr":1960,"w":23,"t":-1.25,"s":"S"},{"yr":1961,"w":23,"t":-1.75,"s":"S"},{"yr":1962,"w":23,"t":-2.25,"s":"L"},{"yr":1963,"w":23,"t":-2.25,"s":"L"},{"yr":1964,"w":23,"t":-2.25,"s":"L"},{"yr":1965,"w":23,"t":-2.25,"s":"L"},{"yr":1966,"w":23,"t":-2.75,"s":"L"},{"yr":1967,"w":23,"t":-2.75,"s":"L"},{"yr":1968,"w":23,"t":-2.25,"s":"L"},{"yr":1969,"w":23,"t":-2.25,"s":"L"},{"yr":1970,"w":23,"t":-1.75,"s":"S"},{"yr":1971,"w":23,"t":-1.25,"s":"S"},{"yr":1972,"w":23,"t":-0.75,"s":"S"},{"yr":1973,"w":23,"t":-0.75,"s":"S"},{"yr":1974,"w":23,"t":-0.25,"s":"S"},{"yr":1975,"w":23,"t":0.75,"s":"S"},{"yr":1976,"w":23,"t":0.75,"s":"S"},{"yr":1977,"w":23,"t":1.75,"s":"L"},{"yr":1978,"w":23,"t":1.75,"s":"L"},{"yr":1979,"w":23,"t":1.75,"s":"L"},{"yr":1980,"w":23,"t":1.75,"s":"L"},{"yr":1981,"w":23,"t":2.75,"s":"L"},{"yr":1982,"w":23,"t":2.25,"s":"L"},{"yr":1983,"w":23,"t":3.25,"s":"F"},{"yr":1984,"w":23,"t":3.75,"s":"F"},{"yr":1985,"w":23,"t":3.75,"s":"F"},{"yr":1986,"w":23,"t":3.25,"s":"F"},{"yr":1987,"w":23,"t":3.75,"s":"F"},{"yr":1988,"w":23,"t":2.75,"s":"F"},{"yr":1989,"w":23,"t":2.75,"s":"F"},{"yr":1990,"w":23,"t":2.75,"s":"F"},
{"yr":1939,"w":21,"t":2.25,"s":"S"},{"yr":1940,"w":21,"t":0.75,"s":"S"},{"yr":1941,"w":21,"t":-0.75,"s":"S"},{"yr":1942,"w":21,"t":-1.75,"s":"S"},{"yr":1943,"w":21,"t":-2.25,"s":"S"},{"yr":1944,"w":21,"t":-2.25,"s":"L"},{"yr":1945,"w":21,"t":-3.25,"s":"L"},{"yr":1946,"w":21,"t":-3.75,"s":"F"},{"yr":1947,"w":21,"t":-4.25,"s":"F"},{"yr":1948,"w":21,"t":-4.25,"s":"F"},{"yr":1949,"w":21,"t":-3.75,"s":"F"},{"yr":1950,"w":21,"t":-3.25,"s":"L"},{"yr":1951,"w":21,"t":-2.75,"s":"L"},{"yr":1952,"w":21,"t":-2.75,"s":"L"},{"yr":1953,"w":21,"t":-2.75,"s":"S"},{"yr":1954,"w":21,"t":-2.75,"s":"S"},{"yr":1955,"w":21,"t":-2.75,"s":"S"},{"yr":1956,"w":21,"t":-1.25,"s":"S"},{"yr":1957,"w":21,"t":-1.75,"s":"S"},{"yr":1958,"w":21,"t":-1.75,"s":"S"},{"yr":1959,"w":21,"t":-2.25,"s":"S"},{"yr":1960,"w":21,"t":-1.25,"s":"S"},{"yr":1961,"w":21,"t":-2.25,"s":"S"},{"yr":1962,"w":21,"t":-1.75,"s":"S"},{"yr":1963,"w":21,"t":-1.75,"s":"S"},{"yr":1964,"w":21,"t":-2.25,"s":"S"},{"yr":1965,"w":21,"t":-2.25,"s":"S"},{"yr":1966,"w":21,"t":-2.25,"s":"L"},{"yr":1967,"w":21,"t":-3.25,"s":"F"},{"yr":1968,"w":21,"t":-3.25,"s":"F"},{"yr":1969,"w":21,"t":-3.25,"s":"L"},{"yr":1970,"w":21,"t":-2.25,"s":"S"},{"yr":1971,"w":21,"t":-1.75,"s":"S"},{"yr":1972,"w":21,"t":-0.75,"s":"S"},{"yr":1973,"w":21,"t":-1.25,"s":"S"},{"yr":1974,"w":21,"t":-0.25,"s":"S"},{"yr":1975,"w":21,"t":-0.25,"s":"S"},{"yr":1976,"w":21,"t":0.75,"s":"S"},{"yr":1977,"w":21,"t":2.25,"s":"L"},{"yr":1978,"w":21,"t":1.75,"s":"L"},{"yr":1979,"w":21,"t":1.75,"s":"L"},{"yr":1980,"w":21,"t":2.25,"s":"L"},{"yr":1981,"w":21,"t":1.75,"s":"L"},{"yr":1982,"w":21,"t":1.75,"s":"S"},{"yr":1983,"w":21,"t":3.25,"s":"F"},{"yr":1984,"w":21,"t":3.25,"s":"F"},{"yr":1985,"w":21,"t":3.25,"s":"F"},{"yr":1986,"w":21,"t":3.75,"s":"F"},{"yr":1987,"w":21,"t":3.75,"s":"F"},{"yr":1988,"w":21,"t":3.25,"s":"L"},{"yr":1989,"w":21,"t":2.75,"s":"L"},{"yr":1990,"w":21,"t":2.75,"s":"L"},{"yr":1991,"w":21,"t":3.75,"s":"F"},{"yr":1992,"w":21,"t":3.25,"s":"F"}
]},
"mark": {"type": "point", "shape": "square", "filled": true, "opacity": 1, "strokeWidth": 0},
"encoding": {
"x": {"field": "yr", "type": "quantitative", "scale": {"domain": [1930, 2000], "nice": false, "zero": false},
"axis": {"orient": "bottom", "values": [1930,1940,1950,1960,1970,1980,1990,2000], "format": "d", "grid": true, "gridColor": "#707070", "gridWidth": 1.2, "gridOpacity": 1, "domain": false, "ticks": true, "tickSize": 11, "tickColor": "#707070", "tickWidth": 1.2, "labelFontSize": 42, "labelColor": "black", "labelPadding": 9, "labelFlush": false, "labelOverlap": false, "title": "Starting year", "titleFontSize": 44, "titleFontWeight": "bold", "titleColor": "black", "titleX": 728, "titleY": 110.3, "titleBaseline": "alphabetic", "titleAlign": "center", "zindex": 1}},
"y": {"field": "w", "type": "quantitative", "scale": {"domain": [10, 90], "nice": false, "zero": false},
"axis": {"orient": "left", "values": [10,20,30,40,50,60,70,80,90], "format": "d", "grid": true, "gridColor": "#707070", "gridWidth": 1.2, "gridOpacity": 1, "domain": false, "ticks": true, "tickSize": 11, "tickColor": "#707070", "tickWidth": 1.2, "labelFontSize": 42, "labelColor": "black", "labelPadding": 15, "labelFlush": false, "labelOverlap": false, "title": "Window [years]", "titleFontSize": 44, "titleFontWeight": "bold", "titleColor": "black", "titleX": -112.2, "titleY": 499, "titleAngle": 270, "titleBaseline": "alphabetic", "titleAlign": "center", "zindex": 1}},
"color": {"field": "t", "type": "quantitative", "scale": {"type": "threshold", "domain": [-4,-3.5,-3,-2.5,-2,-1.5,-1,-0.5,0,0.5,1,1.5,2,2.5,3,3.5,4], "range": ["#808080","#ff00ff","#9900ff","#0000ff","#0099ff","#00cccc","#33ffcc","#00ff00","#99ff33","#ffffcc","#ffff66","#ffe500","#ff9900","#ff5500","#e63300","#dd0000","#aa0000","#550000"]}, "legend": null},
"size": {"field": "s", "type": "ordinal", "scale": {"domain": ["F","L","S"], "range": [655, 280, 49]}, "legend": null}
}},
{"data": {"values": [{}]},
"mark": {"type": "text", "text": "Annual", "font": "Liberation Serif", "fontWeight": "bold", "fontSize": 102, "align": "center", "baseline": "alphabetic", "color": "black"},
"encoding": {
"x": {"datum": 1989.44, "type": "quantitative", "axis": {"orient": "top", "values": [1930,1940,1950,1960,1970,1980,1990,2000], "labels": false, "grid": false, "domain": false, "ticks": true, "tickSize": 11, "tickColor": "#707070", "tickWidth": 1.2, "title": null}},
"y": {"datum": 83, "type": "quantitative", "axis": {"orient": "right", "values": [10,20,30,40,50,60,70,80,90], "labels": false, "grid": false, "domain": false, "ticks": true, "tickSize": 11, "tickColor": "#707070", "tickWidth": 1.2, "title": null}}
}}
],
"resolve": {"axis": {"x": "independent", "y": "independent"}}
}
]
}
